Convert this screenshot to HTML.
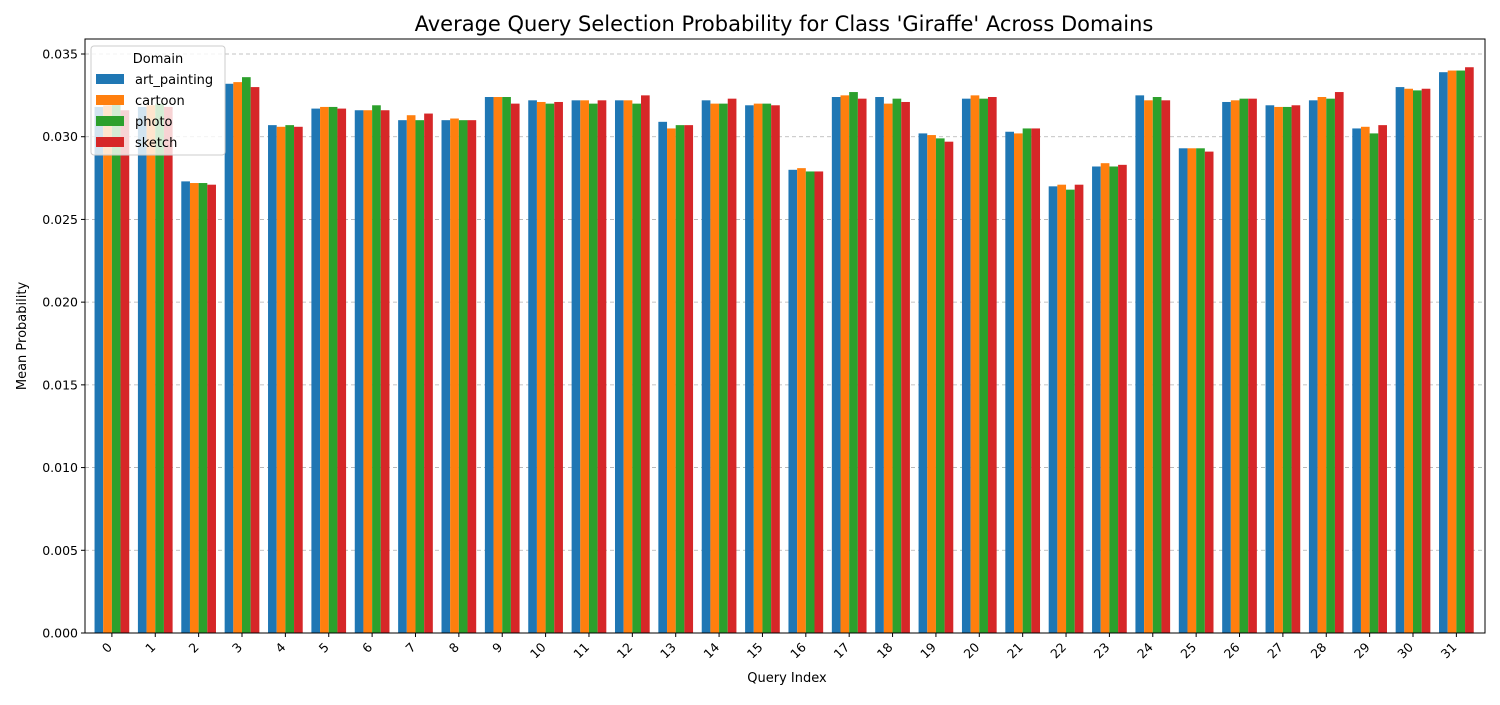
<!DOCTYPE html>
<html><head><meta charset="utf-8"><style>
body{margin:0;background:#fff;font-family:"Liberation Sans","DejaVu Sans",sans-serif}
</style></head><body>
<svg id="chart" width="1500" height="700" xmlns="http://www.w3.org/2000/svg" font-family="DejaVu Sans, Liberation Sans, sans-serif">
<rect width="1500" height="700" fill="#fff"/>
<text x="784" y="31" font-size="21" text-anchor="middle">Average Query Selection Probability for Class 'Giraffe' Across Domains</text>
<g id="grid"></g><g id="bars"></g><g id="axes"></g>
<text x="787" y="682" font-size="13" text-anchor="middle">Query Index</text>
<text transform="translate(26,336) rotate(-90)" font-size="13" text-anchor="middle">Mean Probability</text>
<g id="legend"></g>
</svg>
<script>
const categories=[...Array(32).keys()].map(String);
const series=["art_painting","cartoon","photo","sketch"];
const colors=["#1f77b4","#ff7f0e","#2ca02c","#d62728"];
const artPainting=[0.0318,0.0318,0.0273,0.0332,0.0307,0.0317,0.0316,0.0310,0.0310,0.0324,0.0322,0.0322,0.0322,0.0309,0.0322,0.0319,0.0280,0.0324,0.0324,0.0302,0.0323,0.0303,0.0270,0.0282,0.0325,0.0293,0.0321,0.0319,0.0322,0.0305,0.0330,0.0339];
const cartoon=[0.0319,0.0319,0.0272,0.0333,0.0306,0.0318,0.0316,0.0313,0.0311,0.0324,0.0321,0.0322,0.0322,0.0305,0.0320,0.0320,0.0281,0.0325,0.0320,0.0301,0.0325,0.0302,0.0271,0.0284,0.0322,0.0293,0.0322,0.0318,0.0324,0.0306,0.0329,0.0340];
const photo=[0.0320,0.0320,0.0272,0.0336,0.0307,0.0318,0.0319,0.0310,0.0310,0.0324,0.0320,0.0320,0.0320,0.0307,0.0320,0.0320,0.0279,0.0327,0.0323,0.0299,0.0323,0.0305,0.0268,0.0282,0.0324,0.0293,0.0323,0.0318,0.0323,0.0302,0.0328,0.0340];
const sketch=[0.0316,0.0318,0.0271,0.0330,0.0306,0.0317,0.0316,0.0314,0.0310,0.0320,0.0321,0.0322,0.0325,0.0307,0.0323,0.0319,0.0279,0.0323,0.0321,0.0297,0.0324,0.0305,0.0271,0.0283,0.0322,0.0291,0.0323,0.0319,0.0327,0.0307,0.0329,0.0342];
const yTicks=[0,0.005,0.01,0.015,0.02,0.025,0.03,0.035];
const yTickLabels=["0.000","0.005","0.010","0.015","0.020","0.025","0.030","0.035"];
const values=[artPainting,cartoon,photo,sketch];
const NS="http://www.w3.org/2000/svg";
const L=85,R=1485,T=39,B=633;
const xMin=-0.62,xMax=31.66;
const x=v=>L+(v-xMin)/(xMax-xMin)*(R-L);
const y=v=>B-v/0.035*(B-54);
function mk(tag,attrs,parent){const e=document.createElementNS(NS,tag);for(const k in attrs)e.setAttribute(k,attrs[k]);parent.appendChild(e);return e;}
const grid=document.getElementById('grid'),bars=document.getElementById('bars'),axes=document.getElementById('axes'),leg=document.getElementById('legend');
yTicks.forEach((t,i)=>{
 if(t>0){const g=mk('line',{x1:L,x2:R,y1:y(t),y2:y(t),stroke:'#b0b0b0','stroke-dasharray':'4,3','stroke-width':0.8},grid);
 
 }
 mk('line',{x1:L-4,x2:L,y1:y(t),y2:y(t),stroke:'#000'},axes);
 const tx=mk('text',{x:L-7,y:y(t)+4.5,'font-size':12.5,'text-anchor':'end'},axes);
 tx.textContent=yTickLabels[i];
 
 
});
const bw=0.2;
categories.forEach((c,i)=>{
 series.forEach((s,j)=>{
  const v=values[j][i];
  const x0=x(i-0.4+j*bw);
  const r=mk('rect',{x:x0,y:y(v),width:x(i-0.4+(j+1)*bw)-x0,height:B-y(v),fill:colors[j]},bars);
  
  
 });
 mk('line',{x1:x(i),x2:x(i),y1:B,y2:B+4,stroke:'#000'},axes);
 const tx=mk('text',{'font-size':12.5,'text-anchor':'end',transform:`translate(${x(i)+1},${B+15}) rotate(-45)`},axes);
 tx.textContent=c;
 
 
});
const fr=mk('rect',{x:L,y:T,width:R-L,height:B-T,fill:'none',stroke:'#000','stroke-width':1},axes);


mk('rect',{x:91,y:46,width:134,height:109,rx:3,fill:'#fff','fill-opacity':0.8,stroke:'#ccc'},leg);
const lt=mk('text',{x:158,y:63,'font-size':13,'text-anchor':'middle'},leg);lt.textContent='Domain';
series.forEach((s,j)=>{
 const yy=79+j*21;
 mk('rect',{x:96,y:yy-5,width:28,height:10,fill:colors[j]},leg);
 const t=mk('text',{x:135,y:yy+5,'font-size':13},leg);t.textContent=s;
 
 
});
</script>
</body></html>
